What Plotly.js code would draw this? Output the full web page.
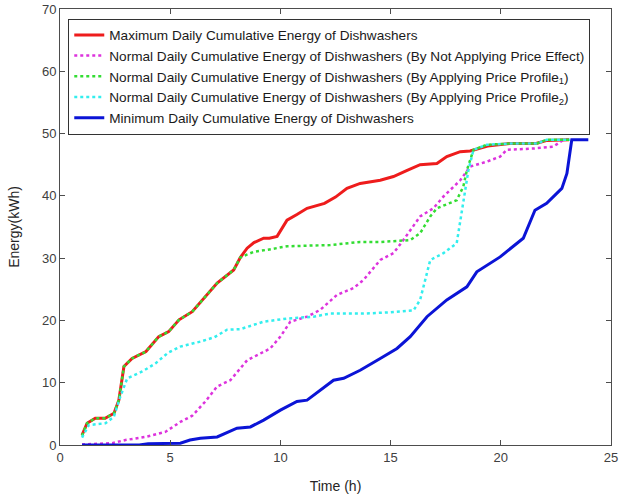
<!DOCTYPE html>
<html>
<head>
<meta charset="utf-8">
<script src="https://cdn.plot.ly/plotly-3.0.1.min.js"></script>
<style>html,body{margin:0;padding:0;background:#fff;}#chart{width:632px;height:496px;}</style>
</head>
<body>
<div id="chart"></div>
<script>
// Series names
var seriesNames = [
  "Maximum Daily Cumulative Energy of Dishwashers",
  "Normal Daily Cumulative Energy of Dishwashers (By Not Applying Price Effect)",
  "Normal Daily Cumulative Energy of Dishwashers (By Applying Price Profile<sub>1</sub>)",
  "Normal Daily Cumulative Energy of Dishwashers (By Applying Price Profile<sub>2</sub>)",
  "Minimum Daily Cumulative Energy of Dishwashers"
];

// Maximum (red)
var maxX = [1, 1.23, 1.6, 2.05, 2.45, 2.67, 2.9, 3.27, 3.9, 4.48, 4.93, 5.4, 6.0, 6.6, 7.13, 7.88, 8.18, 8.49, 8.8, 9.24, 9.5, 9.85, 10.3, 10.75, 11.21, 12.0, 12.5, 13.02, 13.62, 14.53, 15.13, 15.7, 16.34, 17.1, 17.55, 18.16, 18.61, 19.4, 20.4, 21.6, 22.1, 23.1];
var maxY = [1.6, 3.5, 4.3, 4.3, 5.1, 7.2, 12.6, 13.9, 15.0, 17.4, 18.2, 20.1, 21.4, 23.8, 26.0, 28.1, 30.1, 31.6, 32.5, 33.2, 33.2, 33.5, 36.1, 37.0, 38.0, 38.8, 39.8, 41.2, 42.0, 42.5, 43.1, 44.0, 45.0, 45.2, 46.3, 47.1, 47.2, 48.0, 48.4, 48.4, 48.9, 49.0];

// Normal, no price effect (magenta)
var noPriceX = [1, 2.37, 2.97, 3.88, 4.78, 5.46, 6.0, 6.37, 6.6, 7.13, 7.73, 8.49, 9.54, 10.0, 10.45, 11.21, 11.81, 12.57, 13.32, 13.77, 14.53, 15.13, 15.58, 16.34, 16.94, 17.4, 18.16, 18.61, 19.37, 19.97, 20.27, 21.48, 22.38, 22.84, 23.2];
var noPriceY = [0.1, 0.3, 0.8, 1.3, 2.1, 3.7, 4.7, 6.1, 7.0, 9.4, 10.4, 13.6, 15.5, 17.4, 19.8, 20.6, 21.7, 24.1, 25.2, 26.5, 29.7, 30.8, 32.9, 36.7, 38.0, 39.9, 42.5, 44.7, 45.5, 46.3, 47.4, 47.6, 47.9, 49.0, 49.0];

// Normal, price profile 1 (green)
var profile1X = [1, 1.23, 1.6, 2.05, 2.45, 2.67, 2.9, 3.27, 3.9, 4.48, 4.93, 5.4, 6.0, 6.6, 7.13, 7.88, 8.18, 8.5, 8.79, 9.5, 10.3, 11.2, 12.26, 13.62, 14.53, 15.89, 16.34, 16.8, 17.1, 18.0, 18.3, 18.46, 18.76, 19.37, 20.42, 21.63, 22.08, 23.14];
var profile1Y = [1.5, 3.5, 4.3, 4.3, 5.1, 7.2, 12.6, 13.9, 15.0, 17.4, 18.2, 20.1, 21.4, 23.8, 26.0, 28.1, 30.1, 30.6, 31.0, 31.4, 31.9, 32.0, 32.1, 32.6, 32.6, 32.9, 34.0, 36.7, 38.0, 39.3, 41.5, 44.1, 47.4, 48.2, 48.4, 48.4, 49.0, 49.0];

// Normal, price profile 2 (cyan)
var profile2X = [1, 1.31, 2.06, 2.44, 2.74, 3.05, 3.73, 4.33, 4.9, 5.46, 6.37, 7.0, 7.58, 8.18, 9.24, 10.3, 11.5, 12.26, 13.77, 15.0, 16.04, 16.34, 16.8, 17.4, 18.0, 18.3, 18.53, 18.76, 19.37, 20.42, 21.63, 22.08, 23.14];
var profile2Y = [1.2, 3.2, 3.5, 4.5, 7.8, 10.7, 11.8, 13.1, 14.8, 15.8, 16.6, 17.3, 18.5, 18.6, 19.8, 20.3, 20.6, 21.1, 21.1, 21.3, 21.6, 23.3, 29.7, 30.8, 32.4, 38.8, 44.1, 47.4, 48.2, 48.4, 48.4, 49.0, 49.0];

// Minimum (blue)
var minX = [1, 3.6, 4.0, 5.46, 5.9, 6.37, 7.13, 7.43, 8.03, 8.64, 9.24, 10.0, 10.75, 11.21, 11.81, 12.41, 12.87, 13.62, 14.53, 15.29, 15.89, 16.65, 17.55, 18.46, 18.91, 19.97, 21.02, 21.55, 22.08, 22.77, 23.0, 23.22, 23.97];
var minY = [0, 0, 0.2, 0.3, 0.8, 1.1, 1.3, 1.8, 2.7, 2.9, 4.0, 5.6, 7.0, 7.2, 8.8, 10.4, 10.7, 12.0, 13.9, 15.5, 17.4, 20.6, 23.3, 25.4, 27.8, 30.2, 33.2, 37.7, 38.8, 41.2, 43.6, 49.0, 49.0];

var xTicks = [0, 5, 10, 15, 20, 25];
var yTicks = [0, 10, 20, 30, 40, 50, 60, 70];

var traces = [
  {x: maxX, y: maxY, name: seriesNames[0], mode: 'lines', line: {color: '#ee1c1c', width: 3}},
  {x: noPriceX, y: noPriceY, name: seriesNames[1], mode: 'lines', line: {color: '#dd33dd', width: 2.5, dash: 'dot'}},
  {x: profile1X, y: profile1Y, name: seriesNames[2], mode: 'lines', line: {color: '#33dd33', width: 2.5, dash: 'dot'}},
  {x: profile2X, y: profile2Y, name: seriesNames[3], mode: 'lines', line: {color: '#33eeee', width: 2.5, dash: 'dot'}},
  {x: minX, y: minY, name: seriesNames[4], mode: 'lines', line: {color: '#0b14d6', width: 3}}
];

var axisCommon = {
  showgrid: false, zeroline: false, showline: true, linecolor: '#4d4d4d', linewidth: 1,
  mirror: 'ticks', ticks: 'inside', ticklen: 5, tickcolor: '#4d4d4d',
  tickfont: {family: 'Liberation Sans, Arial, sans-serif', size: 13, color: '#404040'}
};

var layout = {
  width: 632, height: 496,
  margin: {l: 60, r: 21, t: 9, b: 51},
  paper_bgcolor: '#ffffff', plot_bgcolor: '#ffffff',
  font: {family: 'Liberation Sans, Arial, sans-serif', color: '#262626'},
  showlegend: true,
  legend: {
    x: 0.015, y: 0.978, xanchor: 'left', yanchor: 'top',
    bgcolor: '#ffffff', bordercolor: '#333333', borderwidth: 1,
    font: {family: 'Liberation Sans, Arial, sans-serif', size: 13.6, color: '#1a1a1a'},
    tracegroupgap: 0
  },
  xaxis: Object.assign({}, axisCommon, {
    range: [0, 25], tickvals: xTicks, ticktext: xTicks.map(String),
    title: {text: 'Time (h)', font: {size: 14, color: '#262626'}, standoff: 17}
  }),
  yaxis: Object.assign({}, axisCommon, {
    range: [0, 70], tickvals: yTicks, ticktext: yTicks.map(String),
    title: {text: 'Energy(kWh)', font: {size: 14, color: '#262626'}, standoff: 19}
  })
};

Plotly.newPlot('chart', traces, layout, {displayModeBar: false, staticPlot: true});
</script>
</body>
</html>
